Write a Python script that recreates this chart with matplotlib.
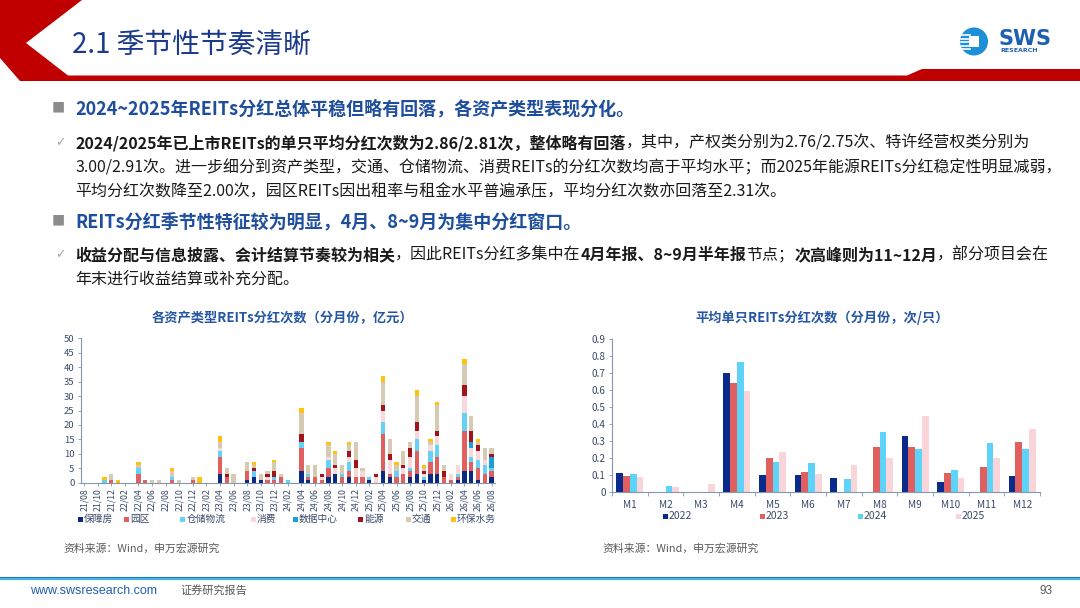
import numpy as np
import pandas as pd
import matplotlib
matplotlib.use('Agg')
import matplotlib.pyplot as plt
from matplotlib.patches import Polygon, Circle, Rectangle

plt.rcParams['font.family'] = ['Noto Sans CJK SC', 'DejaVu Sans']

# ---- data: left chart (monthly dividend counts by asset type) ----
months = [p.strftime('%y/%m') for p in pd.period_range('2021-08', '2026-08', freq='M')]
asset_types = ['保障房', '园区', '仓储物流', '消费', '数据中心', '能源', '交通', '环保水务']
baozhangfang = [0, 0, 0, 0, 0, 0, 0, 0, 0, 0, 0, 0, 0, 0, 0, 0, 0, 0, 0, 0,
                3, 0, 0, 0, 1, 2, 1, 0, 0, 0, 0, 0, 4, 1, 0, 0, 2, 3, 0, 2,
                0, 0, 1, 0, 4, 2, 0, 0, 2, 3, 1, 3, 3, 0, 0, 1, 4, 4, 1, 0, 2]
yuanqu = [0, 0, 0, 0, 1, 0, 0, 0, 3, 1, 0, 0, 0, 1, 0, 0, 1, 0, 0, 0,
          6, 2, 0, 0, 3, 0, 0, 1, 1, 2, 0, 0, 8, 1, 2, 1, 3, 0, 2, 2,
          2, 2, 0, 0, 13, 1, 2, 3, 2, 8, 0, 4, 6, 2, 1, 1, 14, 3, 4, 3, 2]
cangchu = [0, 0, 0, 1, 0, 0, 0, 0, 2, 0, 0, 0, 0, 1, 0, 0, 0, 0, 0, 0,
           2, 0, 0, 0, 0, 2, 0, 0, 1, 0, 1, 0, 2, 1, 0, 0, 3, 0, 1, 3,
           0, 0, 1, 0, 4, 0, 2, 0, 1, 4, 1, 4, 4, 0, 0, 1, 6, 2, 3, 3, 1]
xiaofei = [0, 0, 0, 0, 0, 0, 0, 0, 0, 0, 0, 0, 0, 0, 0, 0, 0, 0, 0, 0,
           1, 0, 0, 0, 0, 0, 0, 1, 0, 0, 0, 0, 0, 0, 0, 1, 1, 2, 0, 2,
           3, 2, 0, 2, 4, 5, 0, 2, 4, 3, 1, 2, 3, 0, 2, 3, 6, 3, 3, 2, 0]
shuju = [0, 0, 0, 0, 0, 0, 0, 0, 0, 0, 0, 0, 0, 0, 0, 0, 0, 0, 0, 0,
         0, 0, 0, 0, 0, 0, 0, 0, 0, 0, 0, 0, 0, 0, 0, 0, 0, 0, 0, 0,
         0, 0, 0, 0, 0, 0, 0, 0, 0, 0, 0, 0, 0, 0, 0, 0, 0, 2, 0, 0, 4]
nengyuan = [0, 0, 0, 0, 0, 0, 0, 0, 0, 0, 0, 0, 0, 0, 0, 0, 0, 0, 0, 0,
            0, 1, 0, 0, 0, 1, 0, 1, 2, 0, 0, 0, 3, 0, 0, 1, 0, 1, 0, 2,
            3, 0, 0, 1, 2, 2, 0, 1, 3, 3, 1, 0, 2, 2, 0, 0, 4, 4, 2, 0, 1]
jiaotong = [0, 0, 0, 0, 2, 0, 0, 0, 1, 0, 1, 1, 0, 2, 1, 0, 1, 0, 0, 0,
            2, 2, 3, 0, 3, 1, 2, 1, 3, 1, 0, 0, 7, 3, 4, 0, 4, 4, 3, 2,
            6, 1, 0, 0, 8, 5, 2, 5, 2, 9, 1, 1, 9, 2, 0, 0, 7, 5, 1, 4, 2]
huanbao = [0, 0, 0, 1, 0, 1, 0, 0, 1, 0, 0, 0, 0, 1, 0, 0, 0, 2, 0, 0,
           2, 0, 0, 0, 0, 1, 0, 0, 1, 0, 0, 0, 2, 0, 0, 0, 1, 1, 0, 1,
           0, 0, 0, 0, 2, 0, 1, 0, 0, 2, 1, 1, 1, 0, 0, 0, 2, 0, 1, 0, 0]
asset_colors = ['#0B2A84', '#E0605F', '#63D2F6', '#F8D8DA', '#1A9FD9', '#A1141E', '#D5CAB2', '#FFC20E']

# ---- data: right chart (average dividends per REIT by month) ----
month_labels = ['M1', 'M2', 'M3', 'M4', 'M5', 'M6', 'M7', 'M8', 'M9', 'M10', 'M11', 'M12']
years = ['2022', '2023', '2024', '2025']
avg_2022 = [0.11, 0, 0, 0.70, 0.10, 0.10, 0.08, 0, 0.33, 0.055, 0, 0.09]
avg_2023 = [0.09, 0, 0, 0.64, 0.20, 0.115, 0, 0.265, 0.265, 0.11, 0.145, 0.295]
avg_2024 = [0.105, 0.035, 0, 0.765, 0.175, 0.17, 0.075, 0.35, 0.255, 0.13, 0.29, 0.255]
avg_2025 = [0.085, 0.03, 0.045, 0.595, 0.235, 0.105, 0.16, 0.20, 0.445, 0.08, 0.20, 0.37]
year_colors = ['#0A2A8C', '#E0605F', '#5ED3FA', '#F9D5D9']

W, H = 1080, 608
fig = plt.figure(figsize=(W / 100, H / 100), dpi=100)
fig.patch.set_facecolor('white')

# overlay in pixel coordinates for slide decoration and text
bg = fig.add_axes([0, 0, 1, 1])
bg.set_xlim(0, W)
bg.set_ylim(H, 0)
bg.axis('off')

red = '#C00000'
bg.add_patch(Polygon([(0, 0), (82, 0), (26, 43), (68, 75.5), (907, 75.5), (922, 69),
                      (1080, 69), (1080, 81), (20, 81), (0, 58)], closed=True,
                     facecolor=red, edgecolor='none'))
bg.text(72, 45, '2.1 季节性节奏清晰', fontsize=20, color='#1B3A8C', va='center')

# logo
bg.add_patch(Circle((974, 41.5), 14, facecolor='#1C8FD8', edgecolor='none'))
for yy in [35, 38.5, 42, 45.5, 49]:
    bg.plot([961, 970], [yy, yy], color='white', lw=1.2)
bg.add_patch(Rectangle((969, 36), 10, 11, facecolor='white', edgecolor='none'))
bg.text(999, 39, 'SWS', fontsize=15, fontweight='bold', color='#1F5FAF', va='center',
        family='DejaVu Sans')
bg.text(1000, 51, 'RESEARCH', fontsize=4.5, fontweight='bold', color='#1F5FAF', va='center',
        family='DejaVu Sans')

renderer = fig.canvas.get_renderer()


def runs(x, y, parts, size, color):
    for txt, bold in parts:
        t = bg.text(x, y, txt, fontsize=size, color=color, va='center',
                    fontweight='bold' if bold else 'normal')
        x += t.get_window_extent(renderer).width


head_blue = '#1F4E9C'
body_size = 11.5
head_size = 13
bg.text(52, 109, '■', fontsize=9.5, color='#8C8C8C', va='center')
runs(75, 109, [('2024~2025年REITs分红总体平稳但略有回落，各资产类型表现分化。', True)], head_size, head_blue)
bg.text(55, 143, '✓', fontsize=9, color='#A6A6A6', va='center', family='DejaVu Sans')
runs(75, 143, [('2024/2025年已上市REITs的单只平均分红次数为2.86/2.81次，整体略有回落', True),
               ('，其中，产权类分别为2.76/2.75次、特许经营权类分别为', False)], body_size, '#1A1A1A')
runs(75, 168, [('3.00/2.91次。进一步细分到资产类型，交通、仓储物流、消费REITs的分红次数均高于平均水平；'
                '而2025年能源REITs分红稳定性明显减弱，', False)], body_size, '#1A1A1A')
runs(75, 192, [('平均分红次数降至2.00次，园区REITs因出租率与租金水平普遍承压，平均分红次数亦回落至2.31次。', False)],
     body_size, '#1A1A1A')
bg.text(52, 222, '■', fontsize=9.5, color='#8C8C8C', va='center')
runs(75, 222, [('REITs分红季节性特征较为明显，4月、8~9月为集中分红窗口。', True)], head_size, head_blue)
bg.text(55, 255, '✓', fontsize=9, color='#A6A6A6', va='center', family='DejaVu Sans')
runs(75, 255, [('收益分配与信息披露、会计结算节奏较为相关', True), ('，因此REITs分红多集中在', False),
               ('4月年报、8~9月半年报', True), ('节点；', False), ('次高峰则为11~12月', True),
               ('，部分项目会在', False)], body_size, '#1A1A1A')
runs(75, 280, [('年末进行收益结算或补充分配。', False)], body_size, '#1A1A1A')

# chart titles and sources
title_blue = '#2456A4'
bg.text(282, 318, '各资产类型REITs分红次数（分月份，亿元）', fontsize=9.5, fontweight='bold',
        color=title_blue, ha='center', va='center')
bg.text(822, 318, '平均单只REITs分红次数（分月份，次/只）', fontsize=9.5, fontweight='bold',
        color=title_blue, ha='center', va='center')
bg.text(63, 549, '资料来源：Wind，申万宏源研究', fontsize=7.8, color='#595959', va='center')
bg.text(602, 549, '资料来源：Wind，申万宏源研究', fontsize=7.8, color='#595959', va='center')

# footer
bg.plot([0, W], [577, 577], color='#1F6FB8', lw=0.8)
bg.plot([0, W], [579, 579], color='#48B4E6', lw=1.6)
bg.text(30, 591, 'www.swsresearch.com', fontsize=9, color='#1F5FAF', va='center',
        family='Liberation Sans')
bg.text(180, 590, '证券研究报告', fontsize=8, color='#595959', va='center')
bg.text(1052, 591, '93', fontsize=8.5, color='#595959', va='center', ha='right',
        family='Liberation Sans')

tick_col = '#3B4A6B'
spine_col = '#8497B0'


def px_axes(x0, x1, ytop, ybot):
    return fig.add_axes([x0 / W, 1 - ybot / H, (x1 - x0) / W, (ybot - ytop) / H])


# ---- left chart ----
ax1 = px_axes(80.7, 495, 338.3, 482.7)
x = np.arange(len(months))
series = [baozhangfang, yuanqu, cangchu, xiaofei, shuju, nengyuan, jiaotong, huanbao]
bottom = np.zeros(len(months))
for vals, col in zip(series, asset_colors):
    vals = np.array(vals, dtype=float)
    ax1.bar(x, vals, width=0.62, bottom=bottom, color=col, linewidth=0)
    bottom += vals
ax1.set_xlim(-0.5, len(months) - 0.5)
ax1.set_ylim(0, 50)
ax1.set_yticks(np.arange(0, 51, 5))
ax1.set_xticks(x[::2])
ax1.set_xticklabels(months[::2], rotation=90, fontsize=6.3, color=tick_col)
ax1.tick_params(axis='y', labelsize=6.8, colors=tick_col, length=2.5, width=0.6, color=spine_col, pad=2)
ax1.tick_params(axis='x', length=2.5, width=0.6, color=spine_col, pad=1.5)
for s in ['top', 'right']:
    ax1.spines[s].set_visible(False)
for s in ['left', 'bottom']:
    ax1.spines[s].set_color(spine_col)
    ax1.spines[s].set_linewidth(0.8)
ax1.patch.set_alpha(0)

leg1_x = [80, 126.7, 182.7, 253, 295, 360, 408, 453]
for lx, name, col in zip(leg1_x, asset_types, asset_colors):
    bg.add_patch(Rectangle((lx - 2.5, 516.5), 5, 5, facecolor=col, edgecolor='none'))
    bg.text(lx + 4, 519, name, fontsize=7, color=tick_col, va='center')

# ---- right chart ----
ax2 = px_axes(612, 1040, 339.3, 491.7)
g = np.arange(len(month_labels))
bw = 0.19
for i, (vals, col) in enumerate(zip([avg_2022, avg_2023, avg_2024, avg_2025], year_colors)):
    ax2.bar(g + (i - 1.5) * bw, vals, width=bw, color=col, linewidth=0)
ax2.set_xlim(-0.5, len(month_labels) - 0.5)
ax2.set_ylim(0, 0.9)
ax2.set_yticks(np.arange(0, 0.91, 0.1))
ax2.set_yticklabels(['0'] + ['%.1f' % v for v in np.arange(0.1, 0.91, 0.1)])
ax2.set_xticks(g)
ax2.set_xticklabels(month_labels, fontsize=7.2, color=tick_col)
ax2.set_xticks(np.arange(-0.5, len(month_labels)), minor=True)
ax2.tick_params(axis='x', which='major', length=0, pad=6)
ax2.tick_params(axis='x', which='minor', length=3, width=0.6, color=spine_col)
ax2.tick_params(axis='y', labelsize=7.2, colors=tick_col, length=2.5, width=0.6, color=spine_col, pad=2)
for s in ['top', 'right']:
    ax2.spines[s].set_visible(False)
for s in ['left', 'bottom']:
    ax2.spines[s].set_color(spine_col)
    ax2.spines[s].set_linewidth(0.8)
ax2.patch.set_alpha(0)

leg2_x = [665, 762, 860, 958]
for lx, name, col in zip(leg2_x, years, year_colors):
    bg.add_patch(Rectangle((lx - 2.5, 513.5), 5, 5, facecolor=col, edgecolor='none'))
    bg.text(lx + 4, 516, name, fontsize=7.5, color=tick_col, va='center')

fig.savefig('out.png', dpi=100)
